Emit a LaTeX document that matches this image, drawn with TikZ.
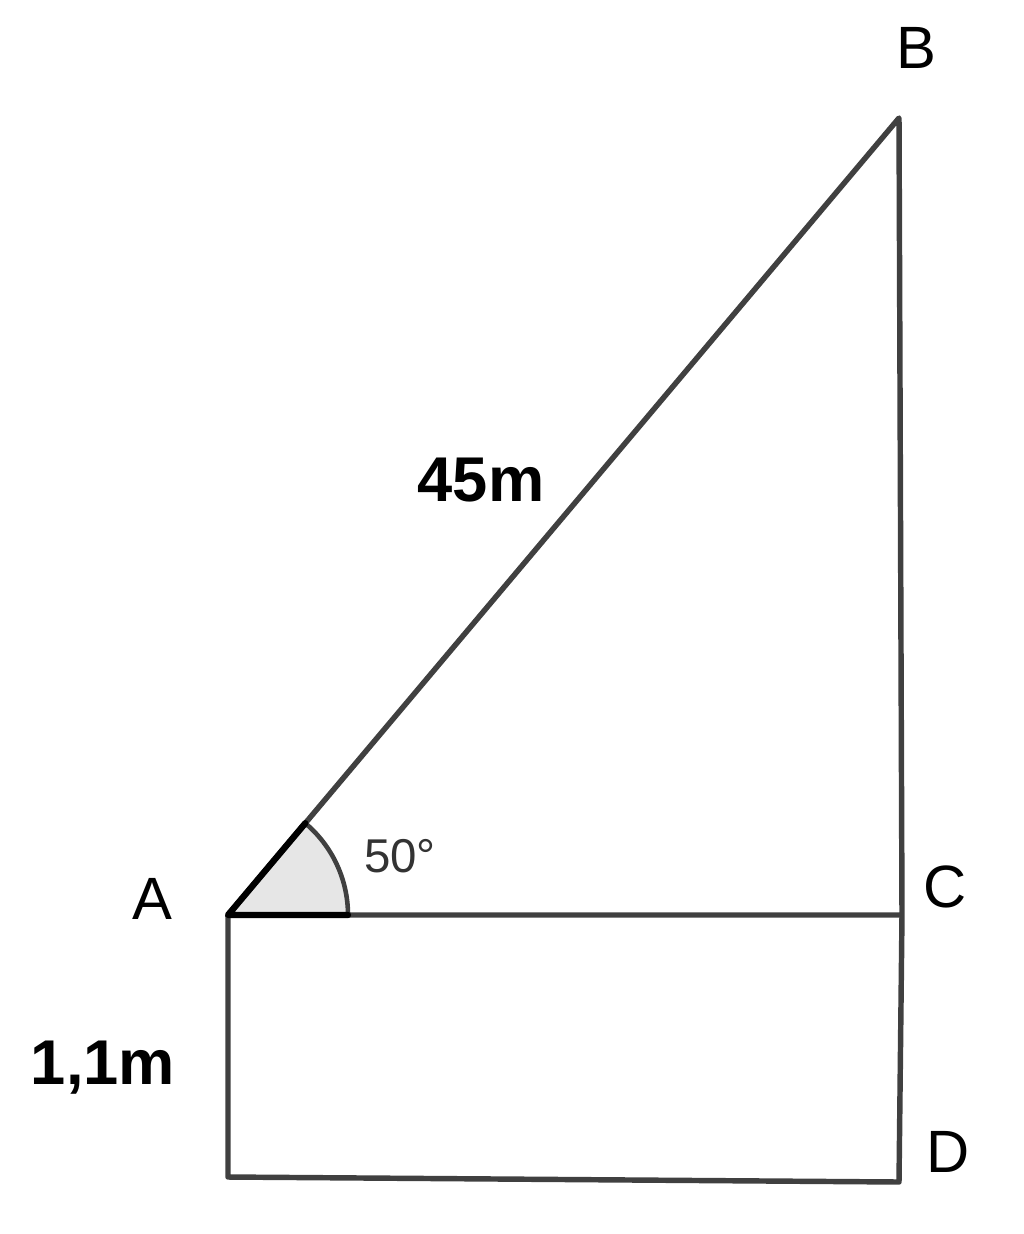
\documentclass[tikz,border=0pt]{standalone}
\usepackage{fontspec}
\setmainfont{Liberation Sans}
\definecolor{linegray}{HTML}{404040}
\definecolor{anglefill}{HTML}{E6E6E6}
\tikzset{
  seg/.style={draw=linegray, line width=3.1pt, line cap=round, line join=round},
  ptlabel/.style={font=\fontsize{34}{40}\selectfont, text=black, inner sep=0pt},
  lenlabel/.style={font=\fontsize{36}{42}\selectfont\bfseries, text=black, inner sep=0pt},
  anglabel/.style={font=\fontsize{27}{32}\selectfont, text=linegray!80!black, inner sep=0pt}
}
\begin{document}
\begin{tikzpicture}[x=0.02cm, y=-0.02cm]
\useasboundingbox (0,0) rectangle (1024,1234);
\coordinate (A) at (228,915);
\coordinate (B) at (899,118);
\coordinate (C) at (902,915);
\coordinate (D) at (899,1182);
\coordinate (E) at (228,1177);
% angle sector
\fill[anglefill] (A) -- ++(120,0) arc[start angle=0, end angle=-49.9, radius=120] -- cycle;
% main lines
\draw[seg] (A) -- (B) -- (C) -- (D) -- (E) -- (A) -- (C);
% angle marking
\draw[linegray, line width=2.6pt] (A) ++(120,0) arc[start angle=0, end angle=-49.9, radius=120];
\draw[black, line width=3.6pt, line cap=round, line join=round]
  (A) ++(-49.9:120) -- (A) -- ++(120,0);
% labels
\node[ptlabel] (lA) at (152,899) {A};
\node[ptlabel] (lB) at (916,48) {B};
\node[ptlabel] (lC) at (945,887) {C};
\node[ptlabel] (lD) at (948,1152) {D};
\node[lenlabel] (l45) at (481,480) {45m};
\node[lenlabel] (l11) at (103,1068) {1,1m};
\node[anglabel] (lang) at (400,856) {50°};
\end{tikzpicture}
\end{document}
